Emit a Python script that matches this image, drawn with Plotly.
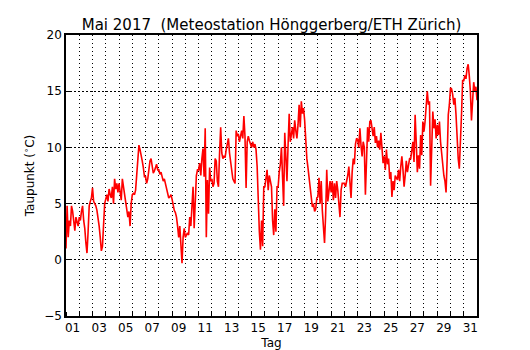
import pandas as pd
import plotly.graph_objects as go

# Dew point (°C), 2-hourly readings, May 1 00:00 ... June 1 00:00
d01 = [1.0, 4.8, 2.0, 3.5, 3.0, 4.8, 4.3, 3.5, 2.6, 3.8, 3.5, 3.0]
d02 = [3.8, 3.5, 4.3, 4.8, 3.5, 2.8, 1.5, 0.6, 2.5, 4.8, 5.2, 5.5]
d03 = [6.4, 5.2, 5.0, 4.8, 4.4, 3.8, 3.0, 2.0, 0.8, 1.2, 3.5, 5.0]
d04 = [5.4, 5.8, 5.2, 6.3, 5.8, 5.5, 6.5, 5.0, 7.2, 6.3, 6.8, 6.0]
d05 = [6.8, 6.2, 5.3, 7.2, 6.6, 6.0, 5.0, 4.5, 3.8, 4.3, 3.0, 5.0]
d06 = [5.8, 5.9, 5.8, 6.2, 7.5, 9.0, 10.2, 9.8, 9.4, 8.8, 8.2, 7.4]
d07 = [7.4, 6.8, 7.2, 8.0, 8.8, 9.0, 8.2, 7.7, 7.9, 8.3, 8.5, 8.0]
d08 = [8.0, 7.6, 7.8, 7.4, 7.0, 7.2, 6.8, 6.4, 5.8, 5.5, 5.6, 5.8]
d09 = [5.4, 4.7, 4.4, 4.2, 3.8, 3.0, 2.0, 3.0, 1.0, -0.3, 2.0, 2.8]
d10 = [2.0, 2.2, 2.4, 2.2, 3.8, 3.0, 5.0, 6.5, 2.8, 6.0, 7.5, 8.0]
d11 = [8.0, 8.6, 7.5, 9.0, 9.9, 7.4, 11.7, 2.0, 7.1, 4.1, 8.2, 7.0]
d12 = [7.2, 6.5, 6.8, 9.0, 8.8, 7.0, 6.5, 9.5, 11.8, 9.5, 9.0, 9.2]
d13 = [9.1, 9.8, 10.5, 10.8, 9.5, 8.6, 8.2, 7.2, 7.0, 6.8, 11.5, 11.0]
d14 = [11.2, 10.5, 11.0, 11.5, 10.8, 12.8, 11.0, 6.4, 10.5, 11.0, 10.6, 10.2]
d15 = [10.0, 10.5, 10.0, 10.3, 9.8, 8.3, 5.0, 2.5, 0.9, 3.5, 1.2, 6.5]
d16 = [6.5, 7.2, 8.0, 6.2, 7.5, 7.0, 6.5, 3.5, 2.2, 4.5, 2.5, 6.5]
d17 = [6.5, 7.8, 8.5, 10.0, 8.0, 4.8, 11.3, 8.2, 7.0, 10.2, 13.0, 10.5]
d18 = [11.0, 11.8, 10.8, 12.4, 11.5, 10.8, 12.0, 13.8, 11.8, 14.1, 13.0, 13.5]
d19 = [12.4, 10.5, 9.0, 8.2, 7.2, 6.5, 5.5, 4.7, 5.0, 4.3, 4.5, 5.5]
d20 = [5.6, 7.3, 5.0, 7.0, 4.4, 3.2, 1.5, 4.0, 8.0, 5.2, 6.5, 7.0]
d21 = [6.0, 7.0, 5.3, 6.8, 5.5, 7.0, 6.2, 5.0, 3.8, 6.2, 6.8, 6.8]
d22 = [6.8, 6.5, 6.9, 7.5, 8.3, 6.5, 5.5, 7.8, 9.0, 8.5, 10.3, 10.8]
d23 = [10.7, 10.0, 11.7, 10.2, 9.2, 10.5, 10.0, 5.8, 9.5, 11.8, 10.5, 12.3]
d24 = [12.4, 11.5, 11.0, 11.8, 10.4, 11.0, 10.0, 10.6, 9.8, 11.3, 9.5, 8.6]
d25 = [9.2, 8.0, 9.8, 8.5, 9.0, 7.2, 7.8, 5.6, 7.0, 6.2, 7.5, 7.2]
d26 = [7.1, 8.0, 7.0, 8.3, 9.2, 8.0, 6.5, 7.5, 8.8, 7.8, 8.5, 9.0]
d27 = [9.0, 10.0, 10.5, 8.7, 12.9, 10.5, 7.8, 9.3, 8.1, 11.1, 9.3, 12.3]
d28 = [11.4, 12.3, 13.5, 15.0, 13.8, 14.1, 6.6, 10.5, 13.2, 11.7, 12.5, 10.8]
d29 = [12.0, 11.1, 12.3, 10.5, 9.3, 8.7, 7.5, 7.0, 6.0, 9.0, 12.9, 13.8]
d30 = [15.3, 15.2, 14.7, 13.8, 14.4, 12.9, 10.8, 9.0, 8.1, 10.2, 13.0, 16.0]
d31 = [15.9, 16.4, 16.1, 17.0, 17.4, 16.4, 15.0, 12.4, 14.5, 15.8, 15.0, 15.4]
jun01 = [14.2]

taupunkt = (d01 + d02 + d03 + d04 + d05 + d06 + d07 + d08 + d09 + d10 + d11 +
            d12 + d13 + d14 + d15 + d16 + d17 + d18 + d19 + d20 + d21 + d22 +
            d23 + d24 + d25 + d26 + d27 + d28 + d29 + d30 + d31 + jun01)
zeit = pd.date_range("2017-05-01 00:00", periods=len(taupunkt), freq="2h")

tick_days = ["01", "03", "05", "07", "09", "11", "13", "15", "17", "19", "21",
             "23", "25", "27", "29", "31"]
tick_pos = [pd.Timestamp(f"2017-05-{d} 12:00") for d in tick_days]
midnights = pd.date_range("2017-05-01", "2017-06-01", freq="D")

FONT = "DejaVu Sans"
fig = go.Figure()
fig.add_trace(go.Scatter(x=zeit, y=taupunkt, mode="lines",
                         line=dict(color="#ff0000", width=1.6),
                         hoverinfo="x+y", showlegend=False))

fig.update_layout(
    width=530, height=350,
    margin=dict(l=66, r=53, t=35, b=34, autoexpand=False),
    paper_bgcolor="white", plot_bgcolor="white",
    font=dict(family=FONT, size=12, color="black"),
    title=dict(text="Mai 2017\u00a0 (Meteostation Hönggerberg/ETH Zürich)",
               x=0.5, xref="paper", xanchor="center",
               y=1, yref="paper", yanchor="bottom",
               pad=dict(b=5), font=dict(family=FONT, size=15, color="black")),
)
fig.update_xaxes(
    type="date", range=[midnights[0], midnights[-1]],
    tickmode="array", tickvals=tick_pos, ticktext=tick_days,
    ticks="", showgrid=False, zeroline=False,
    showline=True, linecolor="black", linewidth=1.5, mirror=True,
    tickfont=dict(family=FONT, size=12, color="black"),
    minor=dict(tickmode="array", tickvals=list(midnights), ticks="inside",
               ticklen=4, tickcolor="black", tickwidth=1,
               showgrid=True, gridcolor="black", gridwidth=1, griddash="1px,3px"),
    title=dict(text="Tag", standoff=4, font=dict(family=FONT, size=12, color="black")),
    automargin=False,
)
fig.update_yaxes(
    range=[-5, 20], tickmode="array", tickvals=[-5, 0, 5, 10, 15, 20],
    ticks="inside", ticklen=5, tickcolor="black", tickwidth=1,
    showgrid=True, gridcolor="black", gridwidth=1, griddash="2px,2px",
    zeroline=False, showline=True, linecolor="black", linewidth=1.5, mirror="ticks",
    tickfont=dict(family=FONT, size=12, color="black"),
    title=dict(text="Taupunkt (<sup>∘</sup>C)", standoff=7,
               font=dict(family=FONT, size=12, color="black")),
    automargin=False,
)
fig.write_html("out.html", config={"displayModeBar": False},
               post_script="document.body.style.margin='0px';document.body.style.padding='0px';")
